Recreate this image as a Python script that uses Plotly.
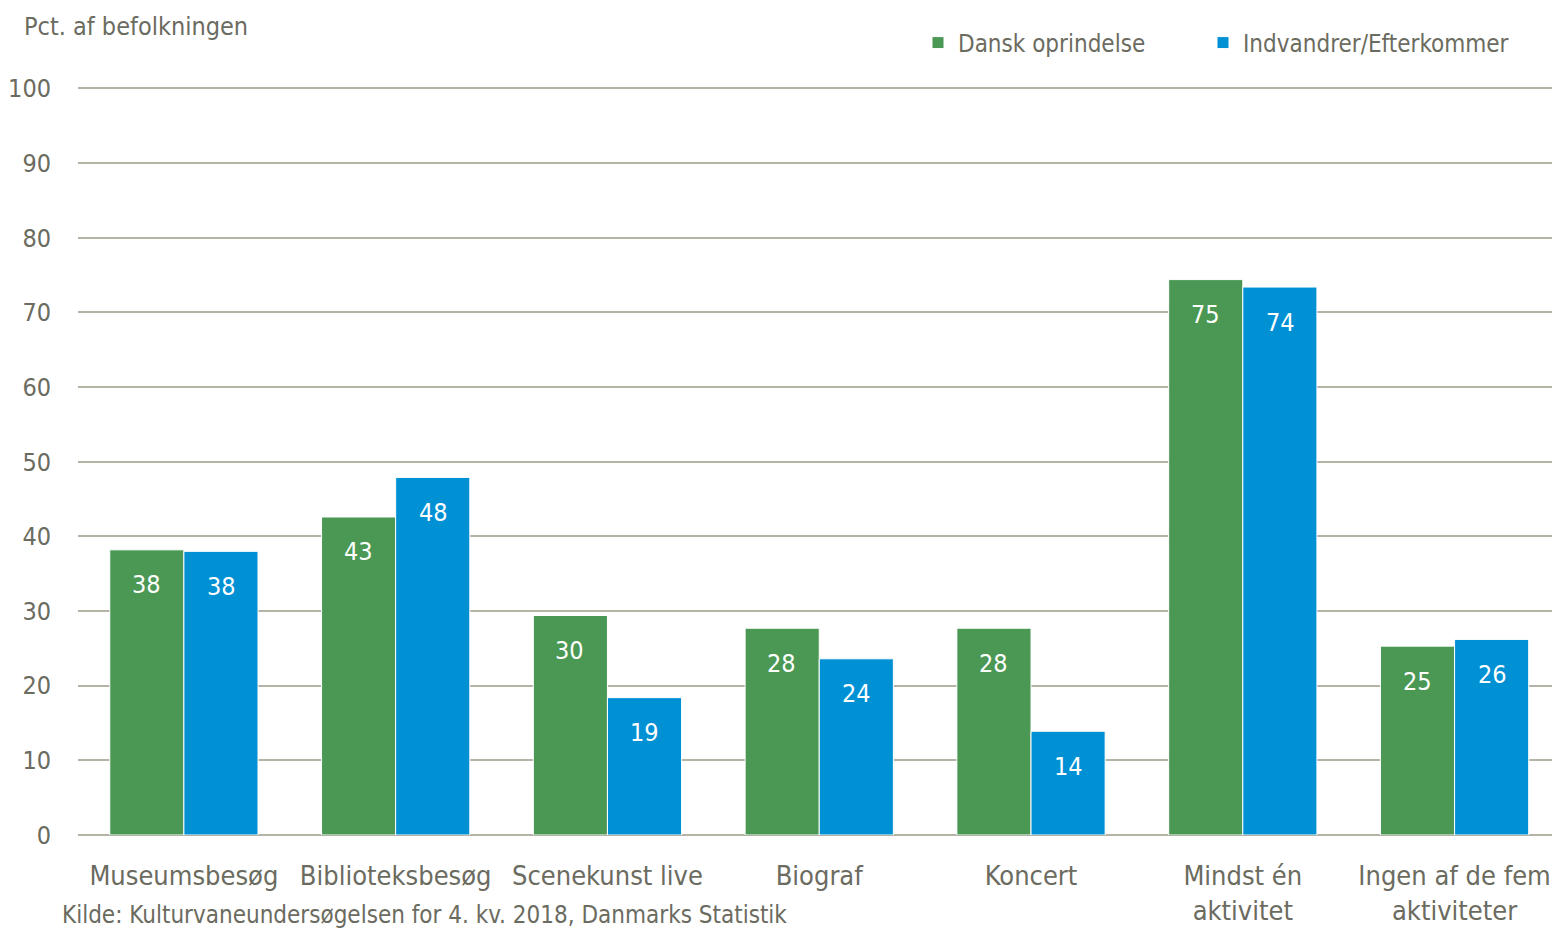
import plotly.graph_objects as go

categories = ["Museumsbesøg", "Biblioteksbesøg", "Scenekunst live", "Biograf",
              "Koncert", "Mindst én<br>aktivitet", "Ingen af de fem<br>aktiviteter"]
dansk_values = [38.2, 42.6, 29.4, 27.7, 27.7, 74.4, 25.3]
dansk_labels = ["38", "43", "30", "28", "28", "75", "25"]
indv_values = [38.0, 47.9, 18.4, 23.6, 13.9, 73.4, 26.2]
indv_labels = ["38", "48", "19", "24", "14", "74", "26"]

GREEN = "#4A9854"
BLUE = "#0090D4"
TXT = "#6B6B5F"
GRID = "#B4B3A6"
FONT = "DejaVu Sans Condensed, Liberation Sans Narrow, sans-serif"

fig = go.Figure()
fig.add_trace(go.Bar(name="Dansk oprindelse", x=categories, y=dansk_values, legend="legend",
                     marker=dict(color=GREEN, line=dict(color="white", width=1))))
fig.add_trace(go.Bar(name="Indvandrer/Efterkommer", x=categories, y=indv_values, legend="legend2",
                     marker=dict(color=BLUE, line=dict(color="white", width=1))))

annotations = []
for cat, v, lab in zip(categories, dansk_values, dansk_labels):
    annotations.append(dict(x=cat, y=v, xref="x", yref="y", text=lab, showarrow=False,
                            xshift=-37.5, yshift=-35, yanchor="middle",
                            font=dict(color="white", size=25, family=FONT)))
for cat, v, lab in zip(categories, indv_values, indv_labels):
    annotations.append(dict(x=cat, y=v, xref="x", yref="y", text=lab, showarrow=False,
                            xshift=37.5, yshift=-35, yanchor="middle",
                            font=dict(color="white", size=25, family=FONT)))
annotations.append(dict(text="Kilde: Kulturvaneundersøgelsen for 4. kv. 2018, Danmarks Statistik",
                        xref="paper", yref="paper", x=(60 - 78) / 1474, y=-(915 - 835) / 748,
                        xanchor="left", yanchor="middle", showarrow=False,
                        font=dict(color=TXT, size=24, family=FONT)))
annotations.append(dict(text="Pct. af befolkningen", xref="paper", yref="paper",
                        x=(22 - 78) / 1474, y=1 + (87 - 27) / 748,
                        xanchor="left", yanchor="middle", showarrow=False,
                        font=dict(size=25, color=TXT, family=FONT)))

leg_common = dict(orientation="h", y=1 + 44 / 748, yanchor="middle", xanchor="left",
                  font=dict(size=24, color=TXT, family=FONT), bgcolor="rgba(0,0,0,0)")

fig.update_layout(
    width=1552, height=931,
    margin=dict(l=78, r=0, t=87, b=96, autoexpand=False),
    paper_bgcolor="white", plot_bgcolor="white",
    barmode="group", bargap=0.30, bargroupgap=0,
    font=dict(family=FONT, color=TXT, size=26),
    legend=dict(x=(918 - 78) / 1474, **leg_common),
    legend2=dict(x=(1203 - 78) / 1474, **leg_common),
    annotations=annotations,
    showlegend=True,
)
fig.update_yaxes(range=[0, 100.2], tickvals=list(range(0, 101, 10)), showgrid=True,
                 gridcolor=GRID, gridwidth=1.5,
                 zeroline=True, zerolinecolor=GRID, zerolinewidth=1.5,
                 showline=False, ticks="", ticklabelstandoff=26,
                 tickfont=dict(size=25, color=TXT, family=FONT), fixedrange=True)
fig.update_xaxes(range=[-0.5, 6.46], showgrid=False, showline=False, ticks="",
                 ticklabelstandoff=22, tickfont=dict(size=27, color=TXT, family=FONT),
                 fixedrange=True)

fig.write_html("out.html", config={"displayModeBar": False},
               post_script="document.body.style.margin='0';")
